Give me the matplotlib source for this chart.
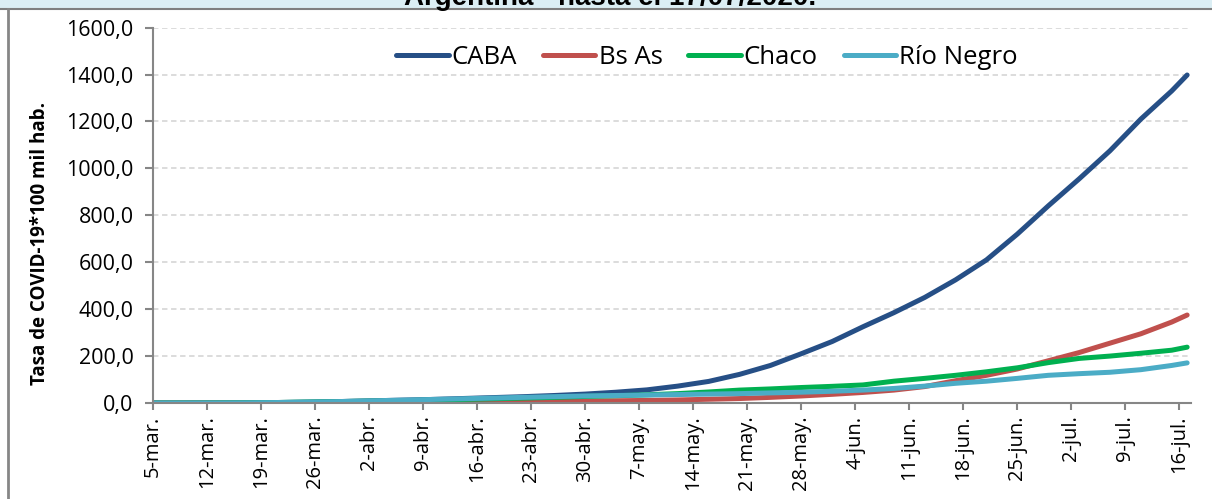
import matplotlib.pyplot as plt
from matplotlib.lines import Line2D
from matplotlib.patches import Rectangle
import pandas as pd

# sample dates (days since 5-mar-2020) and rates per 100k inhabitants
days = [0, 4, 8, 12, 16, 20, 24, 28, 32, 36, 40, 44, 48, 52, 56, 60, 64, 68,
        72, 76, 80, 84, 88, 92, 96, 100, 104, 108, 112, 116, 120, 124, 128,
        132, 134]
caba = [0, 0.1, 0.5, 1, 2, 3.5, 6, 9, 12, 15, 19, 23, 27, 32, 38, 46, 56, 72,
        92, 122, 160, 210, 262, 325, 385, 450, 525, 610, 720, 840, 955, 1075,
        1210, 1330, 1398]
bsas = [0, 0, 0.1, 0.2, 0.5, 0.8, 1.2, 1.7, 2.2, 2.8, 3.5, 4.5, 5.5, 6.5, 8,
        9.5, 11, 13, 16, 19, 24, 30, 37, 45, 55, 70, 95, 118, 145, 180, 215,
        255, 295, 345, 375]
chaco = [0, 0, 0.3, 1, 2, 4, 6, 8, 10, 12, 15, 18, 21, 24, 28, 31, 35, 40, 47,
         55, 60, 66, 71, 77, 93, 105, 118, 133, 150, 172, 190, 200, 212, 225,
         238]
rionegro = [0, 0, 0.2, 0.8, 2, 4, 6, 9, 12, 15, 18, 21, 24, 27, 30, 32, 34,
            36, 38, 40, 43, 46, 50, 55, 62, 72, 84, 93, 105, 118, 125, 131,
            142, 160, 171]

series = [('CABA', caba, '#264f86'), ('Bs As', bsas, '#c0504d'),
          ('Chaco', chaco, '#00b050'), ('Río Negro', rionegro, '#4bacc6')]

meses = {3: 'mar.', 4: 'abr.', 5: 'may.', 6: 'jun.', 7: 'jul.'}
tick_days = list(range(0, 134, 7))
tick_dates = pd.Timestamp('2020-03-05') + pd.to_timedelta(tick_days, unit='D')
tick_labels = [f'{d.day}-{meses[d.month]}' for d in tick_dates]

plt.rcParams['font.family'] = ['Open Sans', 'DejaVu Sans']

fig = plt.figure(figsize=(12.12, 4.99), dpi=100)
ax = fig.add_axes([153 / 1212, 1 - 403 / 499, (1191 - 153) / 1212, (403 - 27.6) / 499])

for name, vals, color in series:
    ax.plot(days, vals, color=color, lw=3.6, label=name, solid_capstyle='round')

ax.set_xlim(0, 134.5)
ax.set_ylim(0, 1600)
ax.set_yticks(range(0, 1601, 200))
ax.set_yticklabels([f'{v},0' for v in range(0, 1601, 200)], fontsize=15.5)
ax.set_xticks(tick_days)
ax.set_xticklabels(tick_labels, rotation=90, fontsize=14.5)
ax.tick_params(axis='both', color='#868686', width=1.5)
ax.tick_params(axis='y', length=6, pad=8)
ax.tick_params(axis='x', length=5, pad=4)

ax.grid(axis='y', linestyle=(0, (3, 2)), color='#d9d9d9', lw=1.3)
ax.set_axisbelow(True)
for side in ['top', 'right']:
    ax.spines[side].set_visible(False)
for side in ['left', 'bottom']:
    ax.spines[side].set_color('#868686')
    ax.spines[side].set_linewidth(1.5)

fig.text(40 / 1212, 1 - 243 / 499, 'Tasa de COVID-19*100 mil hab.', rotation=90,
         ha='center', va='center', fontsize=13.5, fontweight='bold')

ax.legend(loc='center', bbox_to_anchor=(707 / 1212, 1 - 57 / 499),
          bbox_transform=fig.transFigure, ncol=4, frameon=False,
          fontsize=18.5, handlelength=2.05, columnspacing=1.0, handletextpad=0.12)

# header band with the cut-off title and outer frame
fig.patches.append(Rectangle((0, 1 - 8 / 499), 1, 8 / 499, transform=fig.transFigure,
                             facecolor='#dbeef4', edgecolor='none', zorder=0))
fig.text(0.503, 1 - 5 / 499, 'Argentina - hasta el 17/07/2020.', ha='center',
         va='baseline', fontsize=20, fontweight='bold', family='Liberation Sans')
fig.lines.append(Line2D([0, 1], [1 - 9 / 499] * 2, transform=fig.transFigure,
                        color='#7f7f7f', lw=1.5))
fig.lines.append(Line2D([7.5 / 1212] * 2, [0, 1 - 9 / 499], transform=fig.transFigure,
                        color='#868686', lw=2))

fig.savefig('out.png', dpi=100)
